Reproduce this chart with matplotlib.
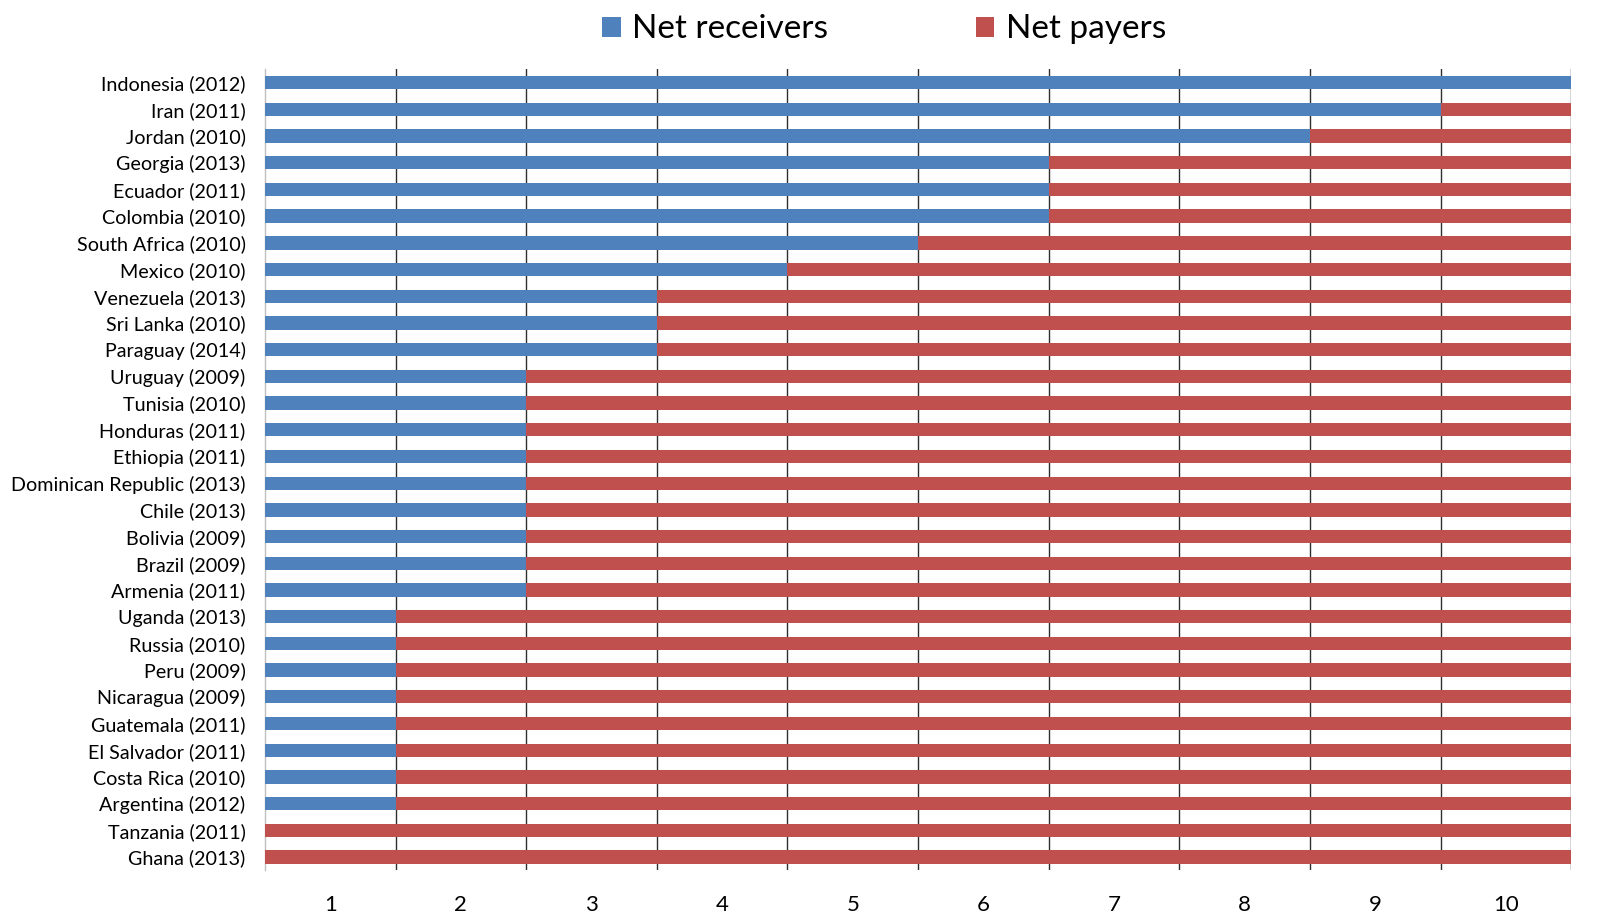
import matplotlib
matplotlib.use("Agg")
import matplotlib.pyplot as plt
import numpy as np

BLUE = "#4F81BD"
RED = "#C0504D"
GRID = "#2e2e2e"

countries = [
    "Indonesia (2012)", "Iran (2011)", "Jordan (2010)", "Georgia (2013)",
    "Ecuador (2011)", "Colombia (2010)", "South Africa (2010)", "Mexico (2010)",
    "Venezuela (2013)", "Sri Lanka (2010)", "Paraguay (2014)", "Uruguay (2009)",
    "Tunisia (2010)", "Honduras (2011)", "Ethiopia (2011)",
    "Dominican Republic (2013)", "Chile (2013)", "Bolivia (2009)",
    "Brazil (2009)", "Armenia (2011)", "Uganda (2013)", "Russia (2010)",
    "Peru (2009)", "Nicaragua (2009)", "Guatemala (2011)", "El Salvador (2011)",
    "Costa Rica (2010)", "Argentina (2012)", "Tanzania (2011)", "Ghana (2013)",
]
net_receivers = [10, 9, 8, 6, 6, 6, 5, 4, 3, 3, 3, 2, 2, 2, 2, 2, 2, 2, 2, 2,
                 1, 1, 1, 1, 1, 1, 1, 1, 0, 0]
net_payers = [0, 1, 2, 4, 4, 4, 5, 6, 7, 7, 7, 8, 8, 8, 8, 8, 8, 8, 8, 8,
              9, 9, 9, 9, 9, 9, 9, 9, 10, 10]
decile_labels = ["1", "2", "3", "4", "5", "6", "7", "8", "9", "10"]

plt.rcParams["font.family"] = ["Lato", "DejaVu Sans"]

fig = plt.figure(figsize=(16, 9.19), dpi=100)
ax = fig.add_axes([0.1656, 0.0529, 0.8164, 0.8717])

y = np.arange(len(countries))
recv = np.array(net_receivers)
pay = np.array(net_payers)
ax.barh(y, recv, height=0.5, color=BLUE, label="Net receivers", zorder=3)
ax.barh(y, pay, left=recv, height=0.5, color=RED, label="Net payers", zorder=3)

ax.set_ylim(len(countries) - 0.5, -0.5)
ax.set_xlim(0, 10)
ax.set_yticks(y)
ax.set_yticklabels(countries, fontsize=14.2)
ax.tick_params(axis="y", length=0, pad=14)

# decile numbers sit between the gridlines
ax.set_xticks(np.arange(1, 11))
ax.set_xticklabels([])
ax.set_xticks(np.arange(10) + 0.5, minor=True)
ax.set_xticklabels(decile_labels, minor=True, fontsize=16)
ax.tick_params(axis="x", which="both", length=0, pad=18)
ax.grid(axis="x", which="major", color=GRID, linewidth=1.0, zorder=1)

for side in ("top", "right", "bottom"):
    ax.spines[side].set_visible(False)
ax.spines["left"].set_color("#bfbfbf")
ax.spines["left"].set_linewidth(1.0)

fig.legend(
    loc="center left",
    bbox_to_anchor=(0.366, 0.968),
    ncol=2,
    frameon=False,
    fontsize=24,
    handlelength=0.55,
    handleheight=0.55,
    handletextpad=0.35,
    columnspacing=4.43,
    borderpad=0,
)

fig.savefig("out.png", dpi=100, facecolor="white")
